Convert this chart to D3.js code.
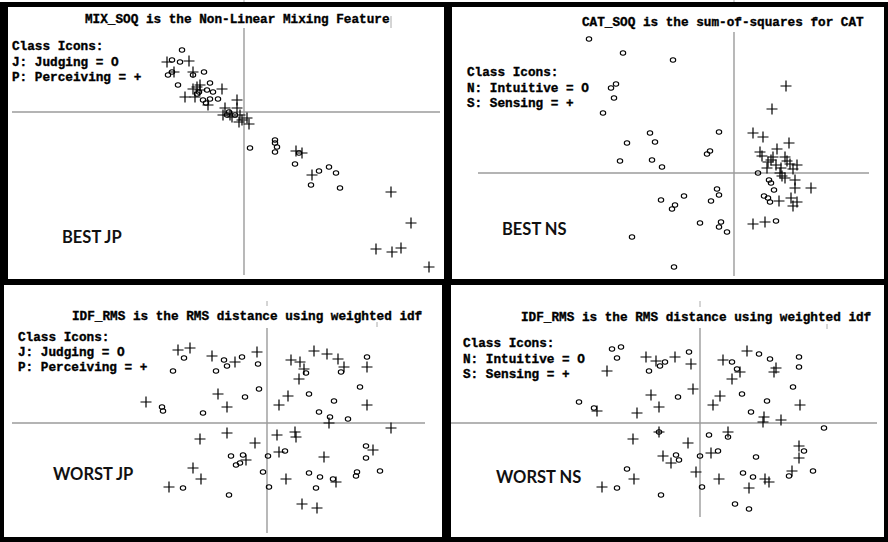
<!DOCTYPE html>
<html><head><meta charset="utf-8">
<script src="https://cdn.jsdelivr.net/npm/d3@7"></script>
<style>body{margin:0;background:#fff}svg{display:block}</style>
</head><body><svg id="c" width="888" height="542"></svg>
<script>
// ---------- DATA ----------
// Top-left: MIX_SOQ, J (circle) / P (plus)
const mixJudging = [[-6.2,6.2],[-7.2,5.2],[-6.4,5.0],[-7.6,3.7],[-7.2,4.0],[-4.0,4.0],[-5.1,3.7],[-6.6,2.7],[-3.4,2.9],[-3.1,2.0],[-4.5,2.0],[-4.1,1.2],[-3.8,0.9],[-3.4,1.3],[-2.6,1.3],[-1.5,0.0],[-0.9,-0.3],[-1.7,-0.3],[0.6,-3.6],[3.1,-2.8],[3.1,-3.1],[3.3,-3.5],[3.1,-4.0],[5.5,-4.1],[5.1,-5.2],[6.7,-7.3],[7.5,-5.9],[8.5,-5.5],[9.2,-6.1],[9.6,-7.6],[-4.7,1.8],[-3.7,2.2]];
const mixPerceiving = [[-7.7,5.0],[-5.5,5.1],[-7.0,4.0],[-5.1,4.0],[-4.4,2.7],[-5.1,2.3],[-4.7,2.5],[-4.4,2.2],[-2.2,2.3],[-5.9,1.5],[-4.9,1.5],[-3.6,0.7],[-0.7,1.2],[-1.9,0.4],[-0.7,0.4],[-1.4,-0.3],[-0.4,-0.3],[-0.2,-0.8],[-0.5,-1.0],[0.3,-0.6],[0.5,-1.2],[-2.1,-0.3],[-1.2,-0.5],[5.2,-3.9],[5.8,-4.1],[6.8,-6.3],[14.7,-8.0],[16.7,-11.1],[13.2,-13.7],[14.8,-14.0],[15.7,-13.6],[18.5,-15.5]];
const mixXDomain = [-23.2, 19.6];
const mixYDomain = [8.4, -16.3];

// Top-right: CAT_SOQ, N (circle) / S (plus)
const catIntuitive = [[-14.5,13.4],[-11.1,12.0],[-6.1,11.3],[-11.8,8.9],[-12.3,8.5],[-12.0,7.5],[-13.1,6.0],[-8.4,4.0],[-7.9,3.1],[-10.7,3.0],[-1.5,4.1],[-2.4,2.2],[-2.7,1.9],[-11.4,1.2],[-8.2,1.3],[-7.2,0.6],[2.4,0.0],[3.5,-0.7],[3.7,-1.0],[4.0,-1.7],[-7.3,-2.7],[-5.0,-2.3],[-1.7,-1.6],[-1.5,-2.2],[-2.3,-2.8],[-5.9,-3.2],[-6.2,-3.6],[3.0,-2.3],[3.4,-2.5],[3.6,-2.9],[-3.4,-5.0],[-1.3,-4.9],[-1.5,-5.4],[-0.7,-5.9],[4.2,-4.8],[-10.2,-6.4],[-6.0,-9.4]];
const catSensing = [[5.2,8.7],[3.8,6.4],[1.9,4.0],[2.9,3.6],[5.5,3.0],[4.3,2.4],[2.6,2.1],[2.8,1.7],[3.9,1.6],[5.1,1.6],[3.4,1.1],[3.7,1.3],[4.2,0.8],[5.3,1.2],[5.6,0.9],[6.3,0.8],[3.3,0.5],[4.7,0.5],[5.9,0.4],[4.6,0.0],[4.8,-0.3],[5.1,-0.5],[6.1,-0.7],[6.1,-1.5],[7.7,-1.5],[4.5,-2.8],[5.7,-2.5],[6.3,-2.9],[5.9,-3.3],[1.9,-5.1],[3.1,-4.9]];
const catXDomain = [-25.6, 13.5];
const catYDomain = [14.1, -10.3];

// Bottom-left: IDF_RMS, J (circle) / P (plus)
const idfJudging = [[-8.3,6.5],[-9.4,5.2],[-5.1,5.2],[-10.5,1.6],[-10.4,1.2],[-6.4,1.0],[-8.4,-6.5],[-4.3,6.3],[-4.0,5.7],[-2.5,6.6],[-0.9,5.9],[-0.8,3.4],[-2.2,2.6],[-3.6,-3.3],[-2.4,-3.2],[-3.1,-4.2],[-2.7,-4.0],[0.1,-3.3],[-0.4,-4.9],[-3.8,-7.2],[0.2,-6.4],[1.8,-2.8],[4.2,-5.0],[5.3,-5.4],[6.6,-5.6],[4.9,-6.5],[9.0,-4.9],[8.9,-5.3],[11.3,-4.8],[9.9,-2.3],[9.9,-3.5],[8.1,0.4],[6.3,0.6],[5.2,1.1],[6.7,2.2],[4.2,2.9],[9.3,3.6],[7.4,5.1],[3.9,5.0],[10.0,6.6]];
const idfPerceiving = [[-8.9,7.3],[-7.7,7.5],[-5.5,6.7],[-4.9,2.9],[-12.1,2.1],[-6.7,-1.6],[-7.4,-4.5],[-6.6,-5.6],[-9.8,-6.4],[-3.2,6.1],[-1.0,7.1],[-4.0,1.6],[-4.0,-1.0],[-1.2,-2.0],[-2.1,-3.7],[1.9,-5.6],[3.5,-8.1],[5.0,-8.5],[1.0,-1.2],[2.8,-0.9],[2.9,-1.4],[1.2,-2.9],[5.7,-3.4],[6.9,-5.9],[10.6,-2.7],[12.4,-0.5],[6.2,0.0],[2.1,2.7],[1.2,1.8],[10.0,1.8],[4.7,7.2],[6.0,6.9],[7.1,6.4],[7.7,5.6],[2.4,6.3],[3.3,6.1],[3.7,5.4],[3.2,4.4],[10.0,5.6]];
const idfJPXDomain = [-25.5, 15.8];
const idfJPYDomain = [9.5, -11.0];

// Bottom-right: IDF_RMS, N (circle) / S (plus)
const idfIntuitive = [[-8.8,7.4],[-7.9,7.6],[-8.3,6.5],[-4.0,5.7],[-3.5,6.1],[-5.1,5.2],[-12.1,2.1],[-10.6,1.5],[-4.1,-0.9],[-7.3,-4.6],[-8.3,-6.5],[-3.9,-7.2],[-1.1,7.1],[-2.2,2.6],[4.2,2.9],[3.2,6.1],[5.9,6.9],[7.0,6.4],[3.7,5.4],[9.9,6.6],[9.9,5.6],[9.3,3.6],[6.7,2.2],[5.1,1.1],[12.4,-0.5],[0.9,-1.2],[2.8,-1.4],[-2.4,-3.2],[-2.1,-3.7],[0.0,-3.3],[1.8,-2.8],[5.6,-3.4],[10.4,-2.8],[0.2,-6.4],[4.3,-5.0],[5.3,-5.4],[8.9,-5.3],[11.3,-4.8],[3.5,-8.1],[4.9,-8.6]];
const idfSensing = [[-5.4,6.6],[-4.4,6.2],[-9.3,5.2],[-4.9,2.8],[-4.1,1.6],[-10.3,1.2],[-6.3,1.0],[-4.1,-0.9],[-6.7,-1.6],[-3.7,-3.3],[-6.6,-5.6],[-9.8,-6.4],[-2.5,6.6],[-0.9,5.9],[-0.7,3.4],[1.3,1.8],[2.0,2.7],[2.3,6.3],[4.7,7.2],[4.0,5.1],[3.2,4.4],[7.6,5.5],[7.4,5.1],[10.0,1.8],[6.4,0.6],[6.3,0.1],[8.1,0.3],[2.8,-0.9],[-1.2,-2.0],[-2.9,-4.0],[1.1,-3.0],[9.9,-2.3],[9.9,-3.5],[-0.4,-4.9],[1.9,-5.6],[4.9,-6.5],[6.5,-5.6],[6.9,-5.9],[9.2,-4.8]];
const idfNSXDomain = [-24.9, 17.7];
const idfNSYDomain = [9.5, -9.4];

const titles = ["MIX_SOQ is the Non-Linear Mixing Feature","CAT_SOQ is the sum-of-squares for CAT","IDF_RMS is the RMS distance using weighted idf","IDF_RMS is the RMS distance using weighted idf"];
const legendJP = ["Class Icons:","J: Judging = O","P: Perceiving = +"];
const legendNS = ["Class Icons:","N: Intuitive = O","S: Sensing = +"];
const tags = ["BEST JP","BEST NS","WORST JP","WORST NS"];

// ---------- LAYOUT ----------
const panels = [
  {title:titles[0], legend:legendJP, tag:tags[0], circ:mixJudging, plus:mixPerceiving, xd:mixXDomain, yd:mixYDomain,
   box:[8,7,444,279], xr:[12,440], yr:[28,275], tx:85, ty:23, lx:12, ly:[50,66,81], gx:62, gy:243},
  {title:titles[1], legend:legendNS, tag:tags[1], circ:catIntuitive, plus:catSensing, xd:catXDomain, yd:catYDomain,
   box:[452,7,884,279], xr:[478,869], yr:[32,276], tx:582, ty:26, lx:467, ly:[76,92,107], gx:502, gy:235},
  {title:titles[2], legend:legendJP, tag:tags[2], circ:idfJudging, plus:idfPerceiving, xd:idfJPXDomain, yd:idfJPYDomain,
   box:[4,285,442,537], xr:[12,425], yr:[328,533], tx:72, ty:320, lx:18, ly:[341,356,371], gx:53, gy:480},
  {title:titles[3], legend:legendNS, tag:tags[3], circ:idfIntuitive, plus:idfSensing, xd:idfNSXDomain, yd:idfNSYDomain,
   box:[451,285,884,537], xr:[451,877], yr:[328,517], tx:521, ty:321, lx:463, ly:[347,363,378], gx:496, gy:483}
];
const ticks = [[244,0,2],[734,0,2],[391,16,28],[267,301,306],[377,322,327],[700,301,307],[827,324,329]];

const monoFont = "'Liberation Mono', 'DejaVu Sans Mono', monospace";
function mono(sel, txt, x, y) {
  sel.append("text").attr("x",x).attr("y",y).text(txt)
    .attr("font-family",monoFont).attr("font-weight","bold").attr("font-size",12.7)
    .attr("fill","#000").attr("stroke","#000").attr("stroke-width",0.35);
}

const svg = d3.select("#c");
svg.append("rect").attr("x",0).attr("y",2).attr("width",888).attr("height",540).attr("fill","#000");

panels.forEach(p => {
  const g = svg.append("g");
  g.append("rect").attr("x",p.box[0]).attr("y",p.box[1]).attr("width",p.box[2]-p.box[0]).attr("height",p.box[3]-p.box[1]).attr("fill","#fff");
  const x = d3.scaleLinear().domain(p.xd).range(p.xr);
  const y = d3.scaleLinear().domain(p.yd).range(p.yr);
  g.append("line").attr("x1",p.xr[0]).attr("x2",p.xr[1]).attr("y1",y(0)).attr("y2",y(0)).attr("stroke","#9b9b9b").attr("stroke-width",1.4);
  g.append("line").attr("x1",x(0)).attr("x2",x(0)).attr("y1",p.yr[0]).attr("y2",p.yr[1]).attr("stroke","#9b9b9b").attr("stroke-width",1.4);
  mono(g, p.title, p.tx, p.ty);
  p.legend.forEach((t,i) => mono(g, t, p.lx, p.ly[i]));
  g.append("text").attr("x",p.gx).attr("y",p.gy).text(p.tag)
    .attr("font-family","Lato, 'Open Sans', sans-serif").attr("font-weight","bold").attr("font-size",16.5).attr("fill","#111");
  g.selectAll("ellipse").data(p.circ).join("ellipse")
    .attr("cx",d=>x(d[0])).attr("cy",d=>y(d[1])).attr("rx",2.7).attr("ry",2.2)
    .attr("fill","none").attr("stroke","#000").attr("stroke-width",1.1);
  g.selectAll("path.pl").data(p.plus).join("path").attr("class","pl")
    .attr("transform",d=>`translate(${x(d[0])},${y(d[1])})`).attr("d","M-5.5,0H5.5M0,-5.5V5.5")
    .attr("fill","none").attr("stroke","#000").attr("stroke-width",1.2);
});
svg.selectAll("line.tk").data(ticks).join("line").attr("class","tk")
  .attr("x1",d=>d[0]).attr("x2",d=>d[0]).attr("y1",d=>d[1]).attr("y2",d=>d[2]).attr("stroke","#aaa").attr("stroke-width",1);
</script></body></html>
